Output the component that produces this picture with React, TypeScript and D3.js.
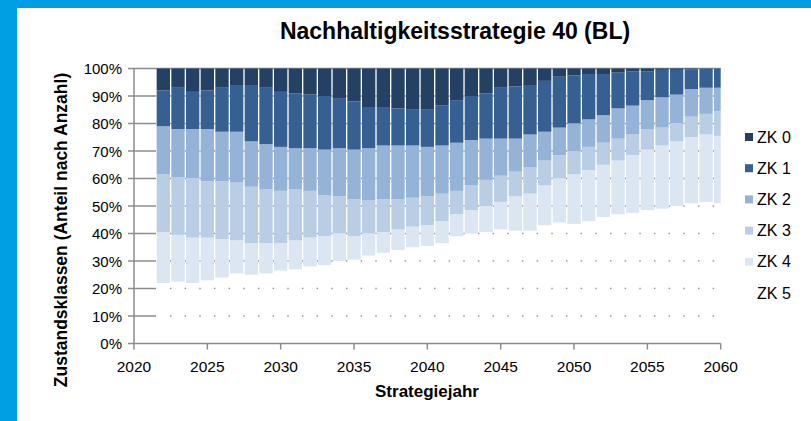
import { useMemo } from "react";
import * as d3 from "d3";

const years = d3.range(2022, 2061);
const classes = ["ZK 0", "ZK 1", "ZK 2", "ZK 3", "ZK 4", "ZK 5"];

// Anteile je Zustandsklasse in %, 2022..2060
const zk0 = [8, 7, 8.5, 8, 7, 6, 6, 7, 8.5, 9, 9.5, 10, 11, 12, 14, 14, 14.5, 15, 15, 13.5, 11.5, 10, 9, 7, 6.5, 6, 4.5, 3, 2.5, 2, 2, 1.5, 1, 1, 0.5, 0.5, 0.3, 0, 0];
const zk1 = [13, 15, 13.5, 14, 16, 17, 20.5, 20.5, 20, 20, 19.5, 19.5, 18, 17.5, 15, 14, 13.5, 13, 13.5, 14.5, 15.5, 16, 16.5, 18.5, 19, 18, 18.5, 18.5, 17.5, 16.5, 15, 13, 12.5, 10.5, 10, 9, 7.2, 7, 7];
const zk2 = [17.5, 17.5, 18, 19, 18, 18.5, 16.5, 16.5, 16, 15, 15.5, 16.5, 17.5, 18, 19, 19.5, 19.5, 19, 18, 17.5, 17.5, 16.5, 15, 13.5, 12, 12, 10.5, 10, 10, 10, 10, 11, 10.5, 10.5, 11, 10.5, 10, 9.5, 8.5];
const zk3 = [21, 21, 21.5, 20.5, 21, 21, 20.5, 19.5, 19, 18.5, 17, 15, 13.5, 13.5, 12, 12, 11, 10.5, 10.5, 10, 8.5, 9, 9.5, 9.5, 9, 9.5, 9, 8.5, 8.5, 8.5, 8, 8, 7.5, 7.5, 6.5, 6.5, 7.5, 7.5, 9];
const zk4 = [18.5, 17, 16.5, 15.5, 14, 12, 11.5, 11, 10, 10.5, 10.5, 10.5, 10, 8.5, 8, 7.5, 7.5, 7.5, 7.5, 8, 8, 8.5, 9.5, 10, 12.5, 13.5, 14.5, 16, 18, 18.5, 19, 19.5, 21, 22, 23, 23.5, 24, 24.5, 24.5];
const zk5 = [22, 22.5, 22, 23, 24, 25.5, 25, 25.5, 26.5, 27, 28, 28.5, 30, 30.5, 32, 33, 34, 35, 35.5, 36.5, 39, 40, 40.5, 41.5, 41, 41, 43, 44, 43.5, 44.5, 46, 47, 47.5, 48.5, 49, 50, 51, 51.5, 51];

const yTicks = d3.range(0, 101, 10);
const xTicks = d3.range(2020, 2061, 5);

const colors = ["#244062", "#366092", "#95B3D7", "#B9CDE5", "#DCE6F2", "none"];

const W = 811;
const H = 421;
const left = 134;
const right = 720.7;
const top = 68.5;
const bottom = 343.5;
const font = "'Liberation Sans', Arial, sans-serif";

export default function App() {
  const x = d3.scaleLinear().domain([2020, 2060]).range([left, right]);
  const y = d3.scaleLinear().domain([0, 100]).range([bottom, top]);
  const step = x(2021) - x(2020);
  const bw = step * 0.91;

  const series = useMemo(() => {
    const rows = years.map((yr, i) => ({
      year: yr,
      "ZK 0": zk0[i],
      "ZK 1": zk1[i],
      "ZK 2": zk2[i],
      "ZK 3": zk3[i],
      "ZK 4": zk4[i],
      "ZK 5": zk5[i],
    }));
    // stack from ZK 5 at the bottom up to ZK 0 at the top
    return d3.stack<any>().keys([...classes].reverse())(rows);
  }, []);

  const gridAxisColor = "#8c8c8c";

  return (
    <svg width={W} height={H} style={{ position: "absolute", left: 0, top: 0, background: "#fff" }}>
      <defs>
        <clipPath id="plot">
          <rect x={left} y={top - 1} width={right - left} height={bottom - top + 1} />
        </clipPath>
      </defs>
      {/* frame */}
      <rect x={0} y={0} width={W} height={8} fill="#009FE3" />
      <rect x={0} y={0} width={17} height={H} fill="#009FE3" />

      <text x={455} y={39} textAnchor="middle" fontFamily={font} fontWeight="bold" fontSize={23} fill="#000">
        Nachhaltigkeitsstrategie 40 (BL)
      </text>

      {/* gridlines: solid start, then dots in the gaps */}
      {yTicks.filter((t) => t > 0).map((t) => (
        <g key={t}>
          <line
            x1={left - 6}
            x2={t === 100 ? right : x(2021.5)}
            y1={y(t)}
            y2={y(t)}
            stroke={gridAxisColor}
            strokeWidth={1.5}
          />
          {t < 100 &&
            years.slice(0, -1).map((yr) => (
              <rect key={yr} x={x(yr + 0.5) - 0.75} y={y(t) - 0.75} width={1.5} height={1.5} fill="#9a9a9a" />
            ))}
        </g>
      ))}

      {/* bars */}
      <g clipPath="url(#plot)">
        {series.map((s) => {
          const ci = classes.indexOf(s.key);
          if (colors[ci] === "none") return null;
          return (
            <g key={s.key} fill={colors[ci]}>
              {s.map((d, i) => (
                <rect
                  key={i}
                  x={x(years[i]) - bw / 2}
                  y={y(d[1])}
                  width={bw}
                  height={Math.max(0, y(d[0]) - y(d[1]))}
                />
              ))}
            </g>
          );
        })}
      </g>

      {/* axes */}
      <line x1={left} x2={left} y1={top} y2={bottom} stroke={gridAxisColor} strokeWidth={1.5} />
      <line x1={left - 6} x2={right} y1={bottom} y2={bottom} stroke={gridAxisColor} strokeWidth={1.5} />
      {xTicks.map((t) => (
        <line key={t} x1={x(t)} x2={x(t)} y1={bottom} y2={bottom + 6} stroke={gridAxisColor} strokeWidth={1.5} />
      ))}

      {yTicks.map((t) => (
        <text key={t} x={122} y={y(t) + 5.5} textAnchor="end" fontFamily={font} fontSize={15} fill="#000">
          {t}%
        </text>
      ))}
      {xTicks.map((t) => (
        <text key={t} x={x(t)} y={372} textAnchor="middle" fontFamily={font} fontSize={15.5} fill="#000">
          {t}
        </text>
      ))}

      <text x={427} y={397} textAnchor="middle" fontFamily={font} fontWeight="bold" fontSize={17} fill="#000">
        Strategiejahr
      </text>
      <text
        transform={`translate(67,230) rotate(-90)`}
        textAnchor="middle"
        fontFamily={font}
        fontWeight="bold"
        fontSize={17.5}
        fill="#000"
      >
        Zustandsklassen (Anteil nach Anzahl)
      </text>

      {/* legend */}
      {classes.map((c, i) => (
        <g key={c} transform={`translate(745,${137 + i * 31.2})`}>
          {colors[i] !== "none" && <rect x={0} y={-4} width={8} height={8} fill={colors[i]} />}
          <text x={12} y={5.5} fontFamily={font} fontSize={16} fill="#000">
            {c}
          </text>
        </g>
      ))}
    </svg>
  );
}
